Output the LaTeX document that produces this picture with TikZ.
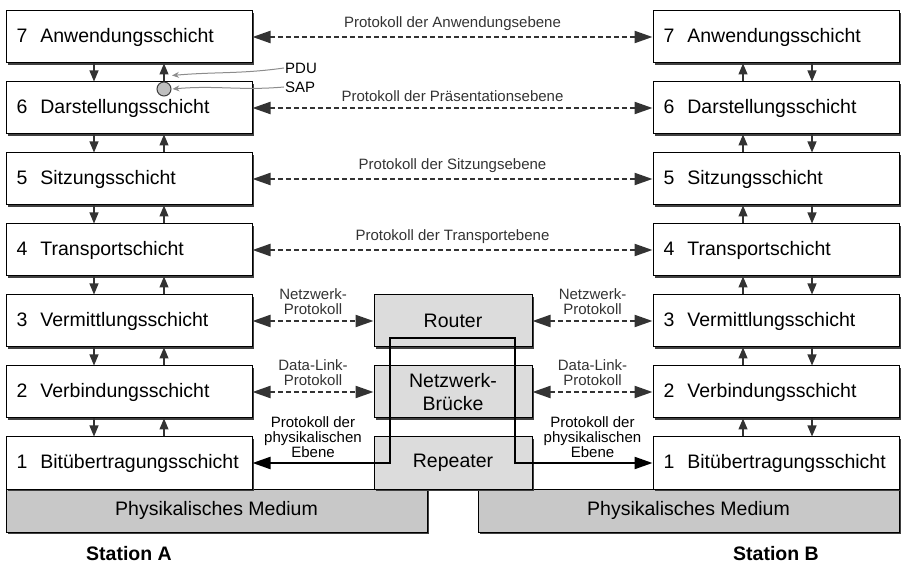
\documentclass[tikz,border=0pt]{standalone}
\usepackage{fontspec}
\setmainfont{Liberation Sans}
\usetikzlibrary{positioning,arrows.meta,shadows}
\definecolor{Cdevgray}{HTML}{DCDCDC}
\definecolor{Cmedium}{HTML}{C8C8C8}
\definecolor{Cline}{HTML}{333333}
\tikzset{
  boxshadow/.style={drop shadow={shadow xshift=1.8pt,shadow yshift=-1.8pt,fill=black!75,opacity=1}},
  layerbox/.style={draw=black,line width=1pt,fill=white,boxshadow,minimum height=52pt,
    text width=225pt,inner xsep=10.5pt,align=flush left,font=\fontsize{19.5}{22}\selectfont},
  devbox/.style={draw=black,line width=1pt,fill=Cdevgray,boxshadow,minimum height=52pt,
    minimum width=158pt,align=center,font=\fontsize{19.5}{23}\selectfont},
  mediumbox/.style={draw=black,line width=1pt,fill=Cmedium,boxshadow,minimum height=43pt,
    minimum width=421pt,font=\fontsize{19.5}{22}\selectfont},
  protlabel/.style={font=\fontsize{15}{15}\selectfont,align=center,inner sep=1pt},
  protarrow/.style={Cline,line width=2.2pt,dash pattern=on 5pt off 3pt,<->,
    >={Triangle[length=18pt,width=12pt]}},
  physline/.style={black,line width=2.2pt,<->,>={Triangle[length=18pt,width=12pt]}},
  layerarrow/.style={Cline,line width=1.2pt,-{Triangle[length=11pt,width=9pt]}},
  pointer/.style={black!45,line width=1pt,-{Stealth[length=7pt,width=6pt]}},
  sapcircle/.style={circle,draw=black!75,fill=black!25,line width=1pt,minimum size=14pt,inner sep=0pt},
  stationlabel/.style={font=\bfseries\fontsize{19.5}{22}\selectfont}
}
\begin{document}
\begin{tikzpicture}[x=1pt,y=1pt]
\useasboundingbox (0,0) rectangle (918,565);
% physical medium and intermediate devices
\node[mediumbox] (mediumA) at (216.5,54.5) {Physikalisches Medium};
\node[mediumbox] (mediumB) at (688.5,54.5) {Physikalisches Medium};
\node[devbox] (router) at (453,244) {Router};
\node[devbox] (bruecke) at (453,173) {Netzwerk-\\Brücke};
\node[devbox] (repeater) at (453,102) {Repeater};
% layers of both stations
\foreach \n/\name in {7/Anwendungsschicht,6/Darstellungsschicht,5/Sitzungsschicht,
    4/Transportschicht,3/Vermittlungsschicht,2/Verbindungsschicht,1/Bitübertragungsschicht}{
  \node[layerbox] (A\n) at (129,31+71*\n) {\mbox{\n\hspace{0.67em}\name}};
  \node[layerbox] (B\n) at (776,31+71*\n) {\mbox{\n\hspace{0.67em}\name}};
}
\foreach \n/\m in {7/6,6/5,5/4,4/3,3/2,2/1}{
  \draw[layerarrow] ([xshift=-35pt]A\n.south) -- ([xshift=-35pt]A\m.north);
  \draw[layerarrow] ([xshift=35pt]A\m.north) -- ([xshift=35pt]A\n.south);
  \draw[layerarrow] ([xshift=-33pt]B\m.north) -- ([xshift=-33pt]B\n.south);
  \draw[layerarrow] ([xshift=36pt]B\n.south) -- ([xshift=36pt]B\m.north);
}
% peer protocols
\foreach \n/\ebene in {7/Anwendungsebene,6/Präsentationsebene,5/Sitzungsebene,4/Transportebene}
  \draw[protarrow] (A\n.east) -- node[protlabel,above=4pt] {Protokoll der \ebene} (B\n.west);
\draw[protarrow] (A3.east) -- node[protlabel,above=4pt] {Netzwerk-\\Protokoll} (router.west);
\draw[protarrow] (router.east) -- node[protlabel,above=4pt] {Netzwerk-\\Protokoll} (B3.west);
\draw[protarrow] (A2.east) -- node[protlabel,above=4pt] {Data-Link-\\Protokoll} (bruecke.west);
\draw[protarrow] (bruecke.east) -- node[protlabel,above=4pt] {Data-Link-\\Protokoll} (B2.west);
\coordinate (bendL) at (390,227);
\coordinate (bendR) at (515,227);
\draw[physline] (A1.east) -| (bendL) -- (bendR) |- (B1.west);
\path (A1.east) -- node[protlabel,above=4pt] {Protokoll der\\physikalischen\\Ebene} (repeater.west);
\path (repeater.east) -- node[protlabel,above=4pt] {Protokoll der\\physikalischen\\Ebene} (B1.west);
% PDU / SAP
\node[sapcircle] (sap) at ([xshift=35pt,yshift=-7.5pt]A6.north) {};
\node[protlabel,anchor=west] (pdu) at (284,497) {PDU};
\node[protlabel,anchor=west] (saplabel) at (284,478) {SAP};
\coordinate (pdutip) at ([xshift=43pt,yshift=6pt]A6.north);
\draw[pointer] (pdu.west) to[out=188,in=5] (pdutip);
\draw[pointer] (saplabel.west) to[out=185,in=5] ([xshift=1pt]sap.east);
\node[stationlabel] (stationA) at (129,11) {Station A};
\node[stationlabel] (stationB) at (776,11) {Station B};
\end{tikzpicture}
\end{document}
